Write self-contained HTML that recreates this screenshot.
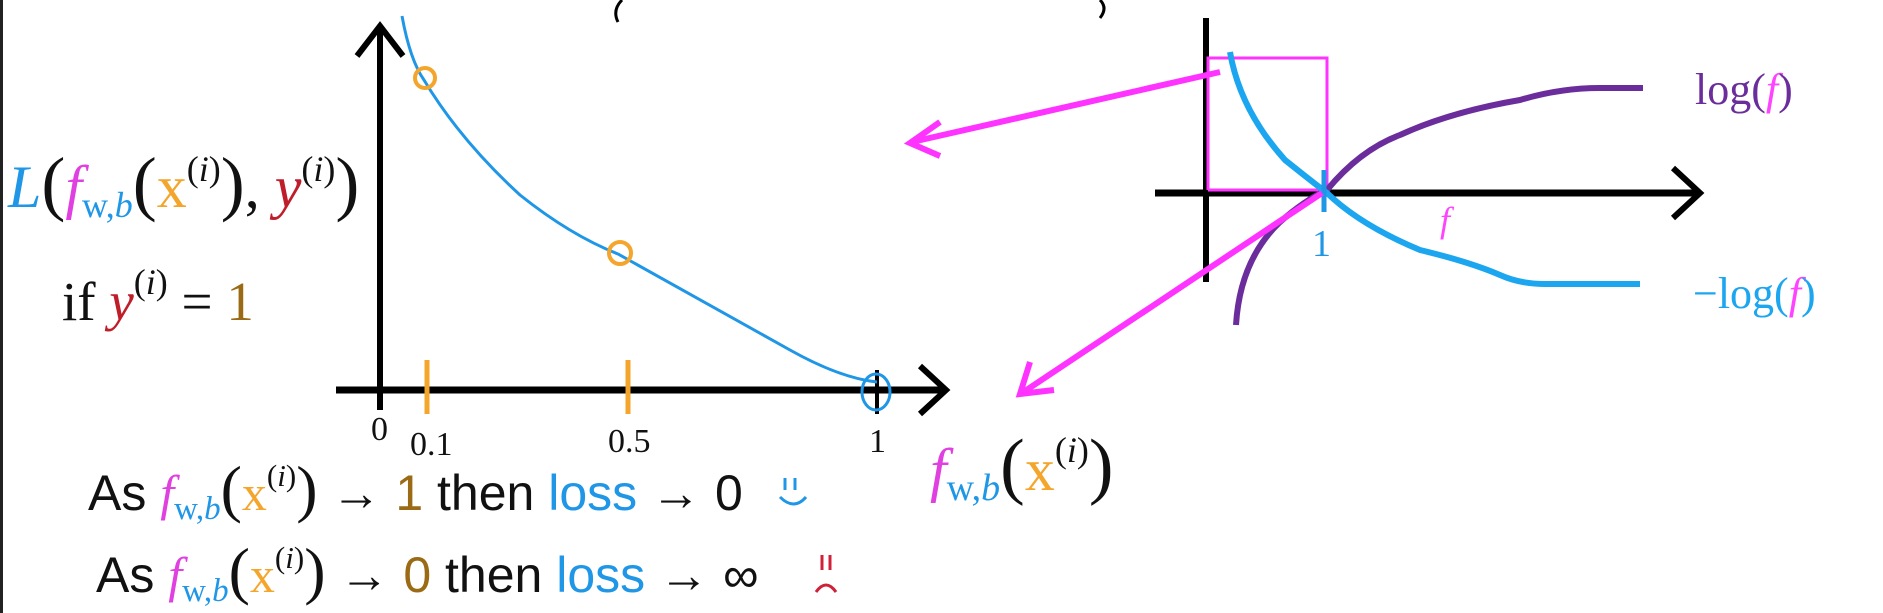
<!DOCTYPE html>
<html><head><meta charset="utf-8"><style>
html,body{margin:0;padding:0;background:#fff;}
svg{display:block;}
.m{font-family:"Liberation Serif",serif;}
.s{font-family:"Liberation Sans",sans-serif;}
</style></head><body>
<svg width="1883" height="613" viewBox="0 0 1883 613" xmlns="http://www.w3.org/2000/svg">
<rect x="0" y="0" width="1883" height="613" fill="#fff"/>
<rect x="0" y="0" width="3" height="613" fill="#222"/>
<path d="M622 0 Q612 10 618 22" stroke="#000" stroke-width="3" fill="none"/>
<path d="M1100 0 Q1108 8 1100 18" stroke="#000" stroke-width="3" fill="none"/>

<line x1="380" y1="30" x2="380" y2="410" stroke="#000" stroke-width="6"/>
<polyline points="357,56 380,26 403,56" stroke="#000" stroke-width="6" fill="none"/>
<line x1="336" y1="390" x2="944" y2="390" stroke="#000" stroke-width="7"/>
<polyline points="920,366 946,390 920,414" stroke="#000" stroke-width="6" fill="none"/>
<line x1="427" y1="360" x2="427" y2="414" stroke="#f4a52c" stroke-width="5"/>
<line x1="628" y1="360" x2="628" y2="414" stroke="#f4a52c" stroke-width="5"/>
<line x1="877" y1="370" x2="877" y2="414" stroke="#000" stroke-width="4"/>
<path d="M402 16 Q410 60 424 80 Q460 140 520 195 Q570 235 618 254 Q700 300 790 350 Q840 378 877 382" stroke="#1f96e6" stroke-width="3" fill="none"/>
<circle cx="425" cy="78" r="10" stroke="#f4a52c" stroke-width="4" fill="none"/>
<circle cx="620" cy="253" r="11" stroke="#f4a52c" stroke-width="4" fill="none"/>
<ellipse cx="876" cy="392" rx="14" ry="18" stroke="#1f96e6" stroke-width="3" fill="none"/>
<text x="371" y="440" class="m" font-size="34" fill="#111">0</text>
<text x="410" y="455" class="m" font-size="34" fill="#111">0.1</text>
<text x="608" y="452" class="m" font-size="34" fill="#111">0.5</text>
<text x="869" y="452" class="m" font-size="34" fill="#111">1</text>

<text x="8" y="207" class="m" font-size="60"><tspan fill="#1f96e6" font-style="italic">L</tspan><tspan fill="#111" font-size="72">(</tspan><tspan fill="#e040e0" font-style="italic">f</tspan><tspan fill="#1f96e6" font-size="36" dy="10">w,</tspan><tspan fill="#1f96e6" font-size="36" font-style="italic">b</tspan><tspan fill="#111" font-size="72" dy="-10">(</tspan><tspan fill="#f4a52c">x</tspan><tspan fill="#111" font-size="36" dy="-26">(<tspan font-style="italic">i</tspan>)</tspan><tspan fill="#111" font-size="72" dy="26">)</tspan><tspan fill="#111">,</tspan><tspan fill="#c01d2a" font-style="italic"> y</tspan><tspan fill="#111" font-size="36" dy="-26">(<tspan font-style="italic">i</tspan>)</tspan><tspan fill="#111" font-size="72" dy="26">)</tspan></text>
<text x="62" y="320" class="m" font-size="55"><tspan fill="#111">if </tspan><tspan fill="#c01d2a" font-style="italic">y</tspan><tspan fill="#111" font-size="36" dy="-26">(<tspan font-style="italic">i</tspan>)</tspan><tspan fill="#111" dy="26"> = </tspan><tspan fill="#9a6a14">1</tspan></text>

<text x="88" y="510" font-size="50"><tspan class="s" fill="#111">As </tspan><tspan class="m" fill="#e040e0" font-style="italic">f</tspan><tspan class="m" fill="#1f96e6" font-size="33" dy="9">w,<tspan font-style="italic">b</tspan></tspan><tspan class="m" fill="#111" font-size="64" dy="-9">(</tspan><tspan class="m" fill="#f4a52c">x</tspan><tspan class="m" fill="#111" font-size="31" dy="-24">(<tspan font-style="italic">i</tspan>)</tspan><tspan class="m" fill="#111" font-size="64" dy="24">)</tspan><tspan class="s" fill="#111"> → </tspan><tspan class="s" fill="#9a6a14">1</tspan><tspan class="s" fill="#111"> then </tspan><tspan class="s" fill="#1f96e6">loss</tspan><tspan class="s" fill="#111"> → 0</tspan></text>
<path d="M780 497 q14 14 26 0" stroke="#1f96e6" stroke-width="3" fill="none"/>
<line x1="785" y1="478" x2="785" y2="490" stroke="#1f96e6" stroke-width="3"/>
<line x1="795" y1="478" x2="795" y2="490" stroke="#1f96e6" stroke-width="3"/>
<text x="96" y="592" font-size="50"><tspan class="s" fill="#111">As </tspan><tspan class="m" fill="#e040e0" font-style="italic">f</tspan><tspan class="m" fill="#1f96e6" font-size="33" dy="9">w,<tspan font-style="italic">b</tspan></tspan><tspan class="m" fill="#111" font-size="64" dy="-9">(</tspan><tspan class="m" fill="#f4a52c">x</tspan><tspan class="m" fill="#111" font-size="31" dy="-24">(<tspan font-style="italic">i</tspan>)</tspan><tspan class="m" fill="#111" font-size="64" dy="24">)</tspan><tspan class="s" fill="#111"> → </tspan><tspan class="s" fill="#9a6a14">0</tspan><tspan class="s" fill="#111"> then </tspan><tspan class="s" fill="#1f96e6">loss</tspan><tspan class="s" fill="#111"> → ∞</tspan></text>
<line x1="822" y1="555" x2="822" y2="570" stroke="#d0203a" stroke-width="3"/>
<line x1="830" y1="555" x2="830" y2="570" stroke="#d0203a" stroke-width="3"/>
<path d="M816 592 q10 -14 20 0" stroke="#d0203a" stroke-width="3" fill="none"/>

<line x1="1206" y1="18" x2="1206" y2="282" stroke="#000" stroke-width="6"/>
<line x1="1155" y1="193" x2="1700" y2="193" stroke="#000" stroke-width="7"/>
<polyline points="1673,168 1700,193 1673,218" stroke="#000" stroke-width="6" fill="none"/>
<polyline points="1208,190 1208,58 1327,58 1327,190" stroke="#ff33ff" stroke-width="3" fill="none"/>
<line x1="1208" y1="190" x2="1327" y2="190" stroke="#ff33ff" stroke-width="3"/>
<path d="M1236 325 Q1240 260 1280 222 Q1305 200 1327 190 Q1360 150 1400 135 Q1450 112 1520 100 Q1560 88 1600 88 L1643 88" stroke="#6b2d9b" stroke-width="6" fill="none"/>
<path d="M1230 52 Q1240 110 1285 160 Q1310 180 1327 193 Q1360 225 1420 250 Q1470 262 1500 275 Q1520 284 1545 284 L1640 284" stroke="#1ba6ef" stroke-width="6" fill="none"/>
<line x1="1324" y1="170" x2="1324" y2="212" stroke="#1f96e6" stroke-width="5"/>
<text x="1312" y="256" class="m" font-size="38" fill="#1f96e6">1</text>
<text x="1440" y="232" class="m" font-size="36" fill="#ff44ff" font-style="italic">f</text>
<text x="1695" y="104" class="m" font-size="44"><tspan fill="#6b2d9b">log(</tspan><tspan fill="#ff44ff" font-style="italic">f</tspan><tspan fill="#6b2d9b">)</tspan></text>
<text x="1693" y="308" class="m" font-size="44"><tspan fill="#1ba6ef">−log(</tspan><tspan fill="#ff44ff" font-style="italic">f</tspan><tspan fill="#1ba6ef">)</tspan></text>
<line x1="1220" y1="72" x2="912" y2="142" stroke="#ff33ff" stroke-width="6"/>
<polyline points="940,122 910,143 940,156" stroke="#ff33ff" stroke-width="6" fill="none"/>
<line x1="1322" y1="193" x2="1022" y2="393" stroke="#ff33ff" stroke-width="6"/>
<polyline points="1030,362 1020,394 1054,390" stroke="#ff33ff" stroke-width="6" fill="none"/>
<text x="930" y="490" font-size="60"><tspan class="m" fill="#e040e0" font-style="italic">f</tspan><tspan class="m" fill="#1f96e6" font-size="38" dy="10">w,<tspan font-style="italic">b</tspan></tspan><tspan class="m" fill="#111" font-size="74" dy="-10">(</tspan><tspan class="m" fill="#f4a52c">x</tspan><tspan class="m" fill="#111" font-size="36" dy="-28">(<tspan font-style="italic">i</tspan>)</tspan><tspan class="m" fill="#111" font-size="74" dy="28">)</tspan></text>
</svg>
</body></html>
